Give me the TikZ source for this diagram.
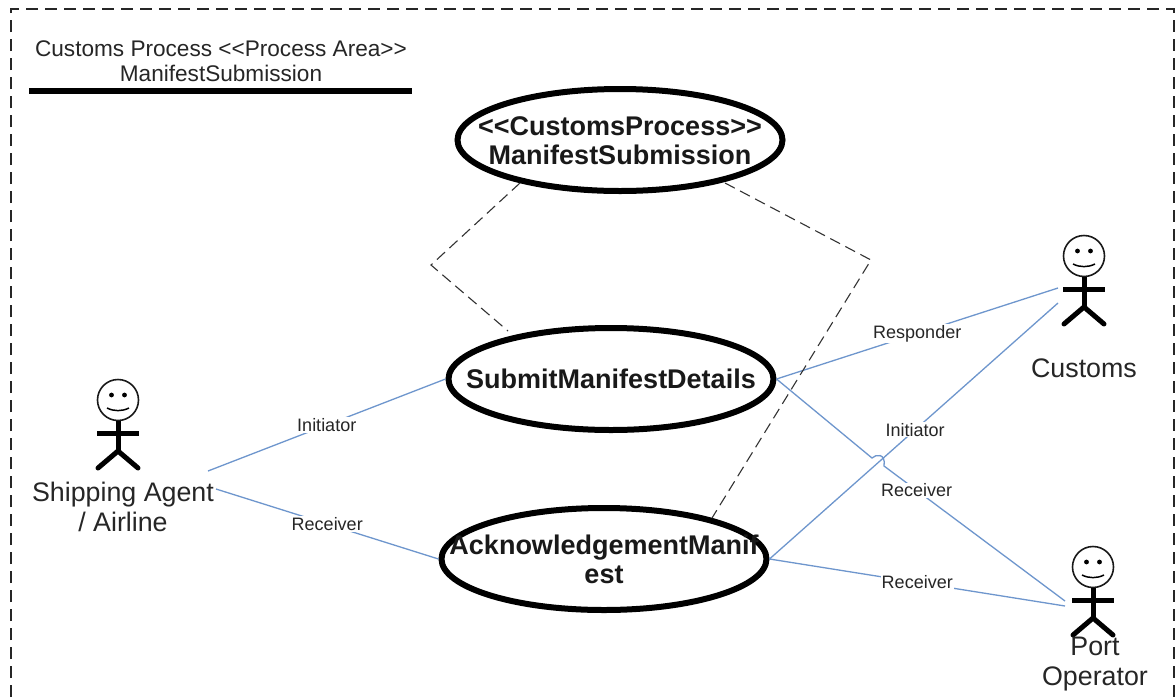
\documentclass[tikz,border=0pt]{standalone}
\usepackage{fontspec}
\setmainfont{Liberation Sans}
\usetikzlibrary{shapes.geometric}
\definecolor{linkblue}{RGB}{110,150,205}
\definecolor{textgray}{gray}{0.15}
\tikzset{
	usecase/.style={ellipse, fill=white, line width=6pt, draw=black, minimum width=325, minimum height=102},
	casetext/.style={font=\fontsize{27}{29}\selectfont\bfseries, align=center, text=black!90},
	actorname/.style={font=\fontsize{26.8}{30}\selectfont, align=center, text=textgray},
	rolelabel/.style={fill=white, inner sep=1pt, font=\fontsize{18}{20}\selectfont, text=black!85},
	link/.style={draw=linkblue, line width=1.3pt},
	dep/.style={draw=black!80, line width=1.1pt, dash pattern=on 11pt off 6pt},
	limb/.style={line width=5pt, line cap=round}
}
% stick figure: name, x, y of the head centre
\newcommand{\stickman}[3]{
	\node[circle, draw=black!90, line width=1.6pt, minimum size=41pt, inner sep=0pt] (#1head) at (#2,#3) {};
	\fill (#2-6.5,#3-5) circle (2.4pt);
	\fill (#2+6.5,#3-5) circle (2.4pt);
	\draw[line width=1.5pt] (#2-11,#3+8) .. controls (#2-4,#3+11.5) and (#2+4,#3+11.5) .. (#2+11,#3+8);
	\draw[limb, line cap=butt] (#1head.south) -- (#2,#3+51);
	\draw[limb, line cap=butt] (#2-21,#3+33) -- (#2+21,#3+33);
	\draw[limb] (#2-20,#3+68) -- (#2,#3+51) -- (#2+20,#3+68);
}
\begin{document}
\begin{tikzpicture}[x=1pt, y=-1pt]
	\useasboundingbox (0,0) rectangle (1176,697);
	\fill[white] (0,0) rectangle (1176,697);
	% frame, open at the bottom
	\draw[black!85, line width=1.3pt, dash pattern=on 12pt off 7pt] (11,697) -- (11,9) -- (1174,9) -- (1174,697);
	% title
	\node[font=\fontsize{22.6}{25}\selectfont, align=center, text=textgray] (title) at (221,61) {Customs Process <{}<Process Area>{}>\\ManifestSubmission};
	\coordinate (ruleL) at (29,91);
	\coordinate (ruleR) at (412,91);
	\draw[line width=6.5pt] (ruleL) -- (ruleR);
	% anchors of the links at the actors
	\coordinate (shippingA) at (208,471);
	\coordinate (shippingB) at (216,489);
	\coordinate (customsA) at (1058,288);
	\coordinate (customsB) at (1058,303);
	\coordinate (portA) at (1065,601);
	\coordinate (portB) at (1065,606);
	% use cases
	\node[usecase] (process) at (620,140) {};
	\node[usecase] (submit) at (611,379) {};
	\node[usecase] (ack) at (604,559) {};
	% links
	\draw[link] (shippingA) -- node[rolelabel] (l1) {Initiator} (submit.west);
	\draw[link] (shippingB) -- node[rolelabel] (l2) {Receiver} (ack.west);
	\draw[link] (submit.east) -- node[rolelabel] (l3) {Responder} (customsA);
	\draw[link] (ack.east) -- node[rolelabel, pos=0.505] (l4) {Initiator} (customsB);
	\draw[link] (submit.east) -- (872,458) .. controls (876,454) and (886,453) .. (884,466) -- node[rolelabel, pos=0.18] (l5) {Receiver} (portA);
	\draw[link] (ack.east) -- node[rolelabel, pos=0.5] (l6) {Receiver} (portB);
	% dependencies
	\coordinate (leftbend) at (431,265);
	\coordinate (rightbend) at (871,260);
	\draw[dep] (520,183) -- (leftbend) -- (508,331);
	\draw[dep] (725,183) -- (rightbend) -- (712,518);
	% texts of the use cases
	\node[casetext] (processtext) at (620,141) {<{}<CustomsProcess>{}>\\ManifestSubmission};
	\node[casetext] (submittext) at (submit) {SubmitManifestDetails};
	\node[casetext] (acktext) at (ack) {AcknowledgementManif\\est};
	% actors
	\stickman{shipping}{118}{400}
	\stickman{customs}{1084}{256}
	\stickman{port}{1093}{567}
	\node[actorname] (shippingname) at (123,507) {Shipping Agent\\/ Airline};
	\node[actorname] (customsname) at (1084,368) {Customs};
	\node[actorname] (portname) at (1095,664) {Port\\Operator};
\end{tikzpicture}
\end{document}
